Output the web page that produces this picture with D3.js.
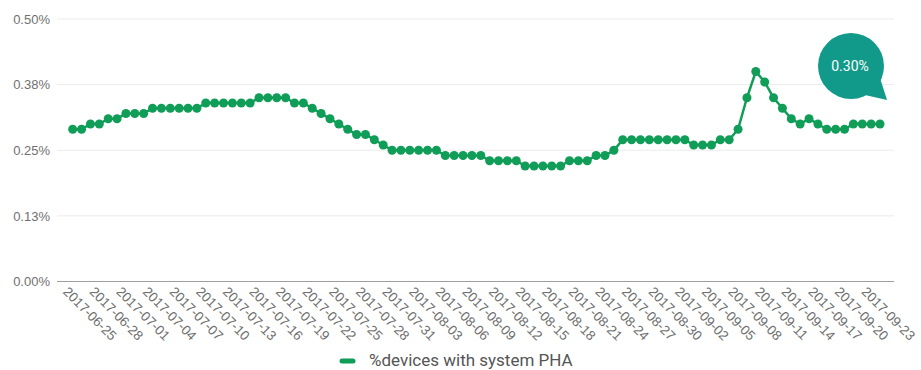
<!DOCTYPE html>
<html>
<head>
<meta charset="utf-8">
<script src="https://cdn.jsdelivr.net/npm/d3@7"></script>
<style>
  html, body { margin: 0; padding: 0; background: #fff; }
  svg { display: block; font-family: Roboto, "Noto Sans", sans-serif; }
</style>
</head>
<body>
<svg id="chart" width="921" height="370"></svg>
<script>
// Daily share of devices with a system-level PHA, 2017-06-25 onwards
const startDate = "2017-06-25";
const phaPercent = [
  0.29, 0.29, 0.30, 0.30, 0.31, 0.31, 0.32, 0.32, 0.32,
  0.33, 0.33, 0.33, 0.33, 0.33, 0.33,
  0.34, 0.34, 0.34, 0.34, 0.34, 0.34,
  0.35, 0.35, 0.35, 0.35, 0.34, 0.34,
  0.33, 0.32, 0.31, 0.30, 0.29, 0.28, 0.28, 0.27, 0.26,
  0.25, 0.25, 0.25, 0.25, 0.25, 0.25,
  0.24, 0.24, 0.24, 0.24, 0.24,
  0.23, 0.23, 0.23, 0.23,
  0.22, 0.22, 0.22, 0.22, 0.22,
  0.23, 0.23, 0.23, 0.24, 0.24, 0.25,
  0.27, 0.27, 0.27, 0.27, 0.27, 0.27, 0.27, 0.27,
  0.26, 0.26, 0.26, 0.27, 0.27,
  0.29, 0.35, 0.40, 0.38, 0.35, 0.33, 0.31, 0.30, 0.31, 0.30,
  0.29, 0.29, 0.29, 0.30, 0.30, 0.30, 0.30
];
const yTickValues = [0, 0.125, 0.25, 0.375, 0.5];
const seriesName = "%devices with system PHA";

const parse = d3.utcParse("%Y-%m-%d");
const fmtDate = d3.utcFormat("%Y-%m-%d");
const day0 = parse(startDate);
const data = phaPercent.map((v, i) => ({ date: d3.utcDay.offset(day0, i), value: v }));
const xTickDates = d3.utcDay.range(day0, d3.utcDay.offset(day0, 91), 3);

const green = "#0f9d58";
const svg = d3.select("#chart");

const x = d3.scaleUtc()
  .domain([data[0].date, data[data.length - 1].date])
  .range([72.7, 880]);
const y = d3.scaleLinear().domain([0, 0.5]).range([281.5, 19]);

const plotLeft = 57, plotRight = 894;

// horizontal gridlines
svg.append("g")
  .selectAll("line")
  .data(yTickValues.filter(d => d > 0))
  .join("line")
  .attr("x1", plotLeft).attr("x2", plotRight)
  .attr("y1", d => y(d)).attr("y2", d => y(d))
  .attr("stroke", "#ebebeb").attr("stroke-width", 1);

// y axis labels
const yAxis = svg.append("g")
  .attr("transform", `translate(${plotLeft},0)`)
  .call(d3.axisLeft(y).tickValues(yTickValues).tickSize(0).tickPadding(7)
    .tickFormat(d => d3.format(".2f")(d) + "%"));
yAxis.select(".domain").remove();
yAxis.selectAll("text").attr("fill", "#707070").attr("font-size", 13);

// x axis baseline and slanted date labels
const xAxis = svg.append("g")
  .attr("transform", `translate(0,${y(0)})`)
  .call(d3.axisBottom(x).tickValues(xTickDates).tickSize(0).tickFormat(fmtDate));
xAxis.select(".domain")
  .attr("d", `M${plotLeft},0H${plotRight}`)
  .attr("stroke", "#9e9e9e");
xAxis.selectAll("text")
  .attr("x", 0).attr("y", 0).attr("dy", 0)
  .attr("text-anchor", "start")
  .attr("transform", "translate(-11,11) rotate(45)")
  .attr("fill", "#6e6e6e").attr("font-size", 13.5);

// series line and markers
svg.append("path")
  .datum(data)
  .attr("fill", "none")
  .attr("stroke", green)
  .attr("stroke-width", 2.5)
  .attr("d", d3.line().x(d => x(d.date)).y(d => y(d.value)));

svg.append("g")
  .selectAll("circle")
  .data(data)
  .join("circle")
  .attr("cx", d => x(d.date))
  .attr("cy", d => y(d.value))
  .attr("r", 4.5)
  .attr("fill", green);

// callout bubble with the latest value
const last = data[data.length - 1];
const bubble = svg.append("g").attr("transform", "translate(851,66)");
bubble.append("path")
  .attr("d", "M14,29 L36,34 L29,12 Z")
  .attr("fill", "#11998a");
bubble.append("circle").attr("r", 33).attr("fill", "#11998a");
bubble.append("text")
  .attr("x", -1).attr("y", 5)
  .attr("text-anchor", "middle")
  .attr("fill", "#fff")
  .attr("font-size", 14)
  .text(d3.format(".2f")(last.value) + "%");

// legend
const legend = svg.append("g").attr("transform", "translate(342,361)");
legend.append("line")
  .attr("x1", 0).attr("x2", 11)
  .attr("stroke", green).attr("stroke-width", 5).attr("stroke-linecap", "round");
legend.append("text")
  .attr("x", 27).attr("y", 5)
  .attr("fill", "#555")
  .attr("font-size", 17)
  .text(seriesName);
</script>
</body>
</html>
